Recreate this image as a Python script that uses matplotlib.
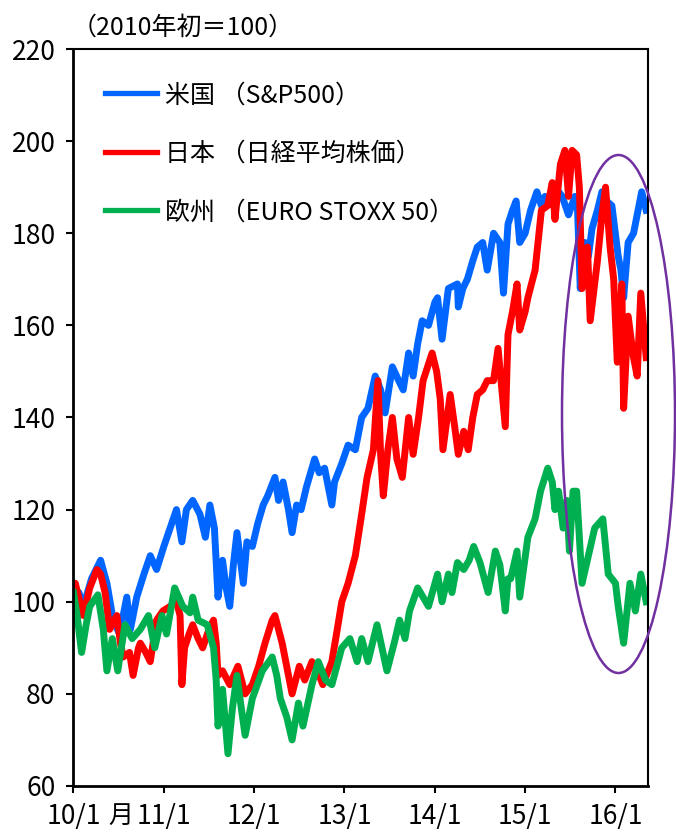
import matplotlib
matplotlib.use('Agg')
import matplotlib.pyplot as plt
from matplotlib.patches import Ellipse

plt.rcParams['font.family'] = ['Noto Sans CJK JP', 'DejaVu Sans']

# (year as decimal, index 2010 start = 100)
us_t = [2010.00, 2010.06, 2010.11, 2010.20, 2010.30, 2010.37, 2010.44, 2010.51, 2010.59, 2010.63,
        2010.70, 2010.78, 2010.85, 2010.92, 2011.00, 2011.07, 2011.14, 2011.20, 2011.25, 2011.32,
        2011.40, 2011.46, 2011.51, 2011.56, 2011.60, 2011.65, 2011.69, 2011.73, 2011.77, 2011.81,
        2011.88, 2011.92, 2011.98, 2012.04, 2012.10, 2012.15, 2012.23, 2012.27, 2012.32, 2012.38,
        2012.42, 2012.47, 2012.52, 2012.58, 2012.67, 2012.72, 2012.78, 2012.86, 2012.89, 2012.97,
        2013.04, 2013.12, 2013.19, 2013.26, 2013.34, 2013.40, 2013.45, 2013.53, 2013.60, 2013.65,
        2013.71, 2013.76, 2013.81, 2013.86, 2013.93, 2014.00, 2014.03, 2014.08, 2014.15, 2014.25,
        2014.26, 2014.31, 2014.36, 2014.42, 2014.47, 2014.53, 2014.58, 2014.65, 2014.72, 2014.76,
        2014.81, 2014.86, 2014.90, 2014.94, 2015.00, 2015.06, 2015.13, 2015.18, 2015.22, 2015.28,
        2015.33, 2015.41, 2015.48, 2015.55, 2015.58, 2015.61, 2015.66, 2015.70, 2015.74, 2015.80,
        2015.85, 2015.90, 2015.96, 2016.03, 2016.06, 2016.09, 2016.14, 2016.20, 2016.25, 2016.29,
        2016.34]
us_v = [100, 102, 99, 105, 109, 104, 96, 93, 101, 94,
        101, 106, 110, 107, 112, 116, 120, 113, 120, 122,
        119, 114, 121, 116, 101, 109, 103, 99, 108, 115,
        104, 113, 112, 117, 121, 123, 127, 122, 126, 120,
        115, 121, 120, 125, 131, 128, 129, 121, 126, 130,
        134, 133, 140, 142, 149, 146, 141, 151, 148, 146,
        154, 149, 156, 161, 160, 165, 166, 157, 168, 169,
        164, 168, 170, 174, 177, 178, 172, 180, 178, 167,
        182, 185, 187, 178, 180, 185, 189, 186, 188, 187,
        190, 188, 184, 188, 185, 168, 178, 175, 181, 185,
        189, 187, 186, 175, 172, 166, 178, 180, 185, 189,
        185]

jp_t = [2010.00, 2010.02, 2010.07, 2010.11, 2010.18, 2010.26, 2010.30, 2010.35, 2010.40, 2010.48,
        2010.52, 2010.55, 2010.62, 2010.66, 2010.72, 2010.74, 2010.80, 2010.85, 2010.92, 2010.99,
        2011.07, 2011.14, 2011.18, 2011.20, 2011.23, 2011.28, 2011.32, 2011.38, 2011.43, 2011.50,
        2011.55, 2011.58, 2011.60, 2011.65, 2011.73, 2011.82, 2011.90, 2011.98, 2012.05, 2012.12,
        2012.20, 2012.23, 2012.31, 2012.37, 2012.42, 2012.50, 2012.56, 2012.64, 2012.70, 2012.76,
        2012.86, 2012.92, 2012.97, 2013.04, 2013.12, 2013.19, 2013.25, 2013.32, 2013.37, 2013.40,
        2013.43, 2013.48, 2013.53, 2013.58, 2013.64, 2013.71, 2013.76, 2013.82, 2013.87, 2013.97,
        2014.02, 2014.06, 2014.09, 2014.17, 2014.22, 2014.26, 2014.32, 2014.37, 2014.42, 2014.47,
        2014.53, 2014.58, 2014.65, 2014.70, 2014.78, 2014.81, 2014.86, 2014.91, 2014.94, 2015.00,
        2015.03, 2015.11, 2015.18, 2015.25, 2015.30, 2015.33, 2015.39, 2015.44, 2015.48, 2015.52,
        2015.57, 2015.60, 2015.63, 2015.66, 2015.69, 2015.72, 2015.80, 2015.85, 2015.89, 2015.94,
        2015.98, 2016.02, 2016.07, 2016.09, 2016.14, 2016.20, 2016.24, 2016.28, 2016.34]
jp_v = [101, 104, 100, 97, 103, 107, 106, 102, 94, 97,
        91, 88, 89, 84, 90, 91, 89, 87, 96, 98,
        99, 100, 97, 82, 90, 93, 95, 92, 90, 94,
        96, 91, 84, 85, 82, 86, 80, 82, 86, 91,
        96, 97, 91, 85, 80, 86, 83, 87, 85, 82,
        87, 94, 100, 104, 110, 119, 127, 133, 148, 132,
        123, 133, 140, 131, 127, 140, 132, 140, 148, 154,
        150, 144, 133, 145, 138, 132, 137, 133, 140, 145,
        146, 148, 148, 155, 138, 158, 163, 169, 159, 163,
        166, 172, 185, 186, 191, 183, 195, 198, 188, 198,
        197, 190, 168, 175, 177, 161, 174, 184, 190, 177,
        170, 152, 169, 142, 162, 153, 149, 167, 153]

eu_t = [2010.00, 2010.04, 2010.09, 2010.14, 2010.18, 2010.27, 2010.33, 2010.37, 2010.43, 2010.49,
        2010.57, 2010.65, 2010.74, 2010.83, 2010.90, 2010.98, 2011.03, 2011.12, 2011.21, 2011.29,
        2011.32, 2011.38, 2011.48, 2011.55, 2011.58, 2011.60, 2011.65, 2011.71, 2011.76, 2011.81,
        2011.85, 2011.90, 2011.98, 2012.09, 2012.20, 2012.25, 2012.29, 2012.36, 2012.42, 2012.49,
        2012.54, 2012.64, 2012.71, 2012.79, 2012.86, 2012.97, 2013.06, 2013.14, 2013.19, 2013.26,
        2013.36, 2013.47, 2013.55, 2013.61, 2013.67, 2013.72, 2013.81, 2013.87, 2013.93, 2014.03,
        2014.08, 2014.15, 2014.19, 2014.25, 2014.32, 2014.38, 2014.43, 2014.50, 2014.59, 2014.67,
        2014.72, 2014.78, 2014.81, 2014.84, 2014.91, 2014.94, 2015.03, 2015.11, 2015.17, 2015.25,
        2015.30, 2015.33, 2015.37, 2015.42, 2015.46, 2015.49, 2015.53, 2015.57, 2015.63, 2015.70,
        2015.77, 2015.86, 2015.92, 2016.00, 2016.03, 2016.09, 2016.16, 2016.22, 2016.28, 2016.34]
eu_v = [102, 97, 89, 95, 99, 101.5, 94, 85, 92, 85,
        95, 92, 94, 97, 90, 97, 93, 103, 99, 97.6,
        101, 96, 95, 90, 83, 73, 81, 67, 77, 84,
        78, 71, 79, 85, 88, 84, 79, 75, 70, 78,
        73, 82, 87, 83, 82, 90, 92, 87, 92, 87,
        95, 85, 91, 96, 92, 98, 103, 101, 99, 106,
        100, 106, 102, 108.5, 107, 109, 112, 108.5, 102, 111,
        108, 98, 105, 105, 111, 101, 114, 118, 124, 129,
        126, 120, 124, 116, 122, 111, 124, 124, 104, 110,
        116, 118, 106, 104, 99, 91, 104, 98, 106, 100]

labels = ['米国 （S&P500）', '日本 （日経平均株価）', '欧州 （EURO STOXX 50）']
colors = ['#0066FF', '#FF0000', '#00B050']
xticks = [2010, 2011, 2012, 2013, 2014, 2015, 2016]
xticklabels = ['10/1', '11/1', '12/1', '13/1', '14/1', '15/1', '16/1']

fig = plt.figure(figsize=(6.76, 8.32), dpi=100)
ax = fig.add_axes([0.1087, 0.0553, 0.8499, 0.8858])

ax.plot(us_t, us_v, color=colors[0], lw=5, solid_joinstyle='round', label=labels[0])
ax.plot(jp_t, jp_v, color=colors[1], lw=5, solid_joinstyle='round', label=labels[1])
ax.plot(eu_t, eu_v, color=colors[2], lw=5, solid_joinstyle='round', label=labels[2])

ax.set_xlim(2010, 2016.36)
ax.set_ylim(60, 220)
ax.set_yticks(range(60, 221, 20))
ax.set_xticks(xticks)
ax.set_xticklabels(xticklabels)
ax.tick_params(axis='both', labelsize=19, direction='out', length=5, width=1.5, color='black')
ax.tick_params(axis='y', pad=8)
ax.tick_params(axis='x', pad=7)
for s in ['left', 'bottom']:
    ax.spines[s].set_linewidth(2.0)
for s in ['top', 'right']:
    ax.spines[s].set_linewidth(1.5)

leg = ax.legend(loc='upper left', bbox_to_anchor=(0.0548, 0.955), frameon=False,
                fontsize=18, handlelength=2.1, handletextpad=0.3, labelspacing=1.3,
                borderpad=0, borderaxespad=0)
for h in leg.get_lines():
    h.set_linewidth(3.8)

fig.text(72 / 676, 1 - 28 / 832, '（2010年初＝100）', ha='left', va='center', fontsize=18)
fig.text(121 / 676, 1 - 816 / 832, '月', ha='center', va='center', fontsize=18)

# purple circle highlighting the recent drop
ell = Ellipse((618.5 / 676, 1 - 414 / 832), 113 / 676, 518 / 832, transform=fig.transFigure,
              fill=False, edgecolor='#7030A0', lw=1.8)
fig.add_artist(ell)

fig.savefig('out.png', dpi=100)
